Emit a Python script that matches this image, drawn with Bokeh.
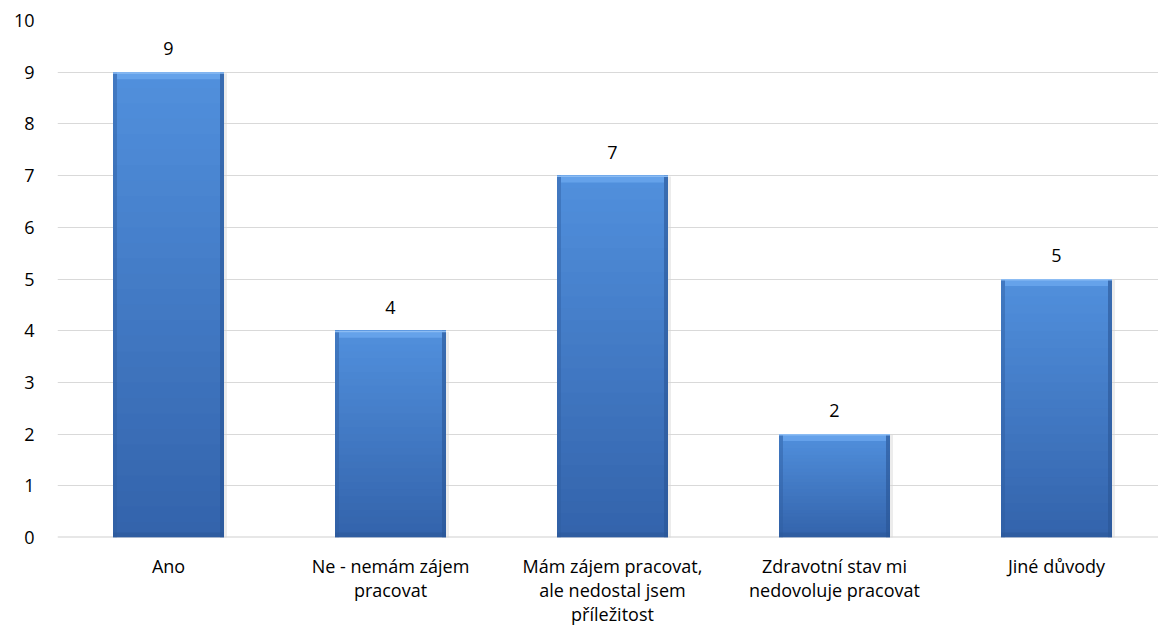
from bokeh.plotting import figure
from bokeh.models import Range1d, FixedTicker, ColumnDataSource, LabelSet
from bokeh.core.properties import value
from bokeh.embed import file_html
from bokeh.resources import INLINE

categories = ["Ano", "Ne - nemám zájem\npracovat", "Mám zájem pracovat,\nale nedostal jsem\npříležitost",
              "Zdravotní stav mi\nnedovoluje pracovat", "Jiné důvody"]
counts = [9, 4, 7, 2, 5]
y_ticks = [0, 1, 2, 3, 4, 5, 6, 7, 8, 9, 10]

FONT = "Open Sans"
W, H = 1158, 637
PX_X = 1.0 / 222.0   # data units per pixel (x)
PX_Y = 10.0 / 517.0  # data units per pixel (y)
HALF = 0.25

p = figure(width=W, height=H, output_backend="svg", toolbar_location=None,
           x_range=Range1d(-0.5, -0.5 + 1101 / 222.0), y_range=Range1d(0, 10),
           min_border_left=57, min_border_right=0, min_border_top=20, min_border_bottom=100)
p.outline_line_color = None
p.background_fill_color = "white"
p.border_fill_color = "white"
p.xgrid.grid_line_color = None
p.ygrid.grid_line_color = "#d9d9d9"
p.ygrid.grid_line_width = 1
p.ygrid.ticker = FixedTicker(ticks=y_ticks)

# y axis
p.yaxis.ticker = FixedTicker(ticks=y_ticks)
p.yaxis.axis_line_color = None
p.yaxis.major_tick_line_color = None
p.yaxis.minor_tick_line_color = None
p.yaxis.major_label_text_font = FONT
p.yaxis.major_label_text_font_size = "18px"
p.yaxis.major_label_text_color = "#000000"
p.yaxis.major_label_standoff = 17

# x axis
xs = list(range(len(categories)))
p.xaxis.ticker = FixedTicker(ticks=xs)
p.xaxis.major_label_overrides = {i: c for i, c in zip(xs, categories)}
p.xaxis.axis_line_color = None
p.xaxis.major_tick_line_color = None
p.xaxis.minor_tick_line_color = None
p.xaxis.major_label_text_font = FONT
p.xaxis.major_label_text_font_size = "18px"
p.xaxis.major_label_text_color = "#000000"
p.xaxis.major_label_standoff = 10
p.xaxis.major_label_text_line_height = 1.0

# baseline at 0
p.segment(x0=[-0.5], y0=[0], x1=[5], y1=[0], line_color="#d0d0d0", line_width=2)

def hexmix(c1, c2, t):
    a = [int(c1[i:i + 2], 16) for i in (1, 3, 5)]
    b = [int(c2[i:i + 2], 16) for i in (1, 3, 5)]
    return "#%02x%02x%02x" % tuple(round(a[k] + (b[k] - a[k]) * t) for k in range(3))

# shadow
p.quad(left=[x - HALF + 2 * PX_X for x in xs], right=[x + HALF + 3 * PX_X for x in xs],
       bottom=[-2 * PX_Y] * len(xs), top=[v - 1 * PX_Y for v in counts],
       fill_color="#d4d4d4", fill_alpha=0.45, line_color=None)

# gradient body (overlapping strips, drawn bottom-up so no seams)
N = 30
L, R, B, T, C = [], [], [], [], []
bottom_col, top_col = "#3363ab", "#5190dd"
for x, v in zip(xs, counts):
    for k in range(N):
        L.append(x - HALF)
        R.append(x + HALF)
        B.append(v * k / N)
        T.append(v)
        C.append(hexmix(bottom_col, top_col, (k + 0.5) / N))
p.quad(source=ColumnDataSource(dict(left=L, right=R, bottom=B, top=T, color=C)),
       left="left", right="right", bottom="bottom", top="top",
       fill_color="color", line_color=None)

# side bevels
p.quad(left=[x - HALF for x in xs], right=[x - HALF + 4 * PX_X for x in xs],
       bottom=[0] * len(xs), top=counts, fill_color="#2f5d9f", fill_alpha=0.45, line_color=None)
p.quad(left=[x + HALF - 4 * PX_X for x in xs], right=[x + HALF for x in xs],
       bottom=[0] * len(xs), top=counts, fill_color="#2a5595", fill_alpha=0.6, line_color=None)
# bottom bevel
p.quad(left=[x - HALF for x in xs], right=[x + HALF for x in xs],
       bottom=[0] * len(xs), top=[5 * PX_Y] * len(xs), fill_color="#2a5595", fill_alpha=0.45, line_color=None)
# top bevel
p.quad(left=[x - HALF + 4 * PX_X for x in xs], right=[x + HALF - 4 * PX_X for x in xs],
       bottom=[v - 7 * PX_Y for v in counts], top=counts, fill_color="#6aa6ee", fill_alpha=0.8, line_color=None)
p.quad(left=[x - HALF for x in xs], right=[x + HALF for x in xs],
       bottom=[v - 1.5 * PX_Y for v in counts], top=counts, fill_color="#8cbcf3", line_color=None)

# value labels
lab_src = ColumnDataSource(dict(x=xs, y=counts, t=[str(v) for v in counts]))
p.add_layout(LabelSet(x="x", y="y", text="t", source=lab_src, y_offset=17,
                      text_align="center", text_baseline="alphabetic",
                      text_font=value(FONT), text_font_size=value("18px"), text_color="#000000"))

open("out.html", "w").write(file_html(p, INLINE))
